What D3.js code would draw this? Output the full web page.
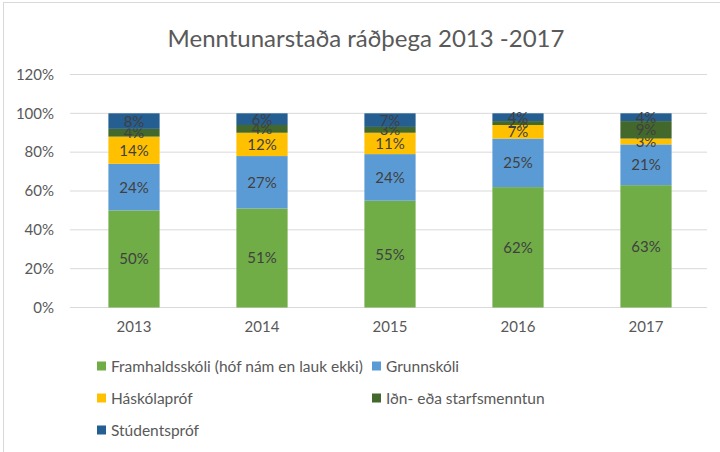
<!DOCTYPE html>
<html>
<head>
<meta charset="utf-8">
<script src="https://cdn.jsdelivr.net/npm/d3@7"></script>
<style>
  body { margin: 0; background: #fff; }
  text { font-family: Lato, "Open Sans", sans-serif; }
</style>
</head>
<body>
<div id="chart"></div>
<script>
const years = ['2013', '2014', '2015', '2016', '2017'];
const seriesNames = ['Framhaldsskóli (hóf nám en lauk ekki)', 'Grunnskóli', 'Háskólapróf', 'Iðn- eða starfsmenntun', 'Stúdentspróf'];
const framhaldsskoli = [50, 51, 55, 62, 63];
const grunnskoli = [24, 27, 24, 25, 21];
const haskolaprof = [14, 12, 11, 7, 3];
const idn = [4, 4, 3, 2, 9];
const studentsprof = [8, 6, 7, 4, 4];
const yTicks = [0, 20, 40, 60, 80, 100, 120];
const colors = ['#70AD47', '#5B9BD5', '#FFC000', '#43682B', '#255E91'];

const allSeries = [framhaldsskoli, grunnskoli, haskolaprof, idn, studentsprof];
const rows = years.map((y, i) => {
  const r = { year: y };
  seriesNames.forEach((n, k) => { r[n] = allSeries[k][i]; });
  return r;
});

const W = 720, H = 452;
const svg = d3.select('#chart').append('svg')
  .attr('width', W)
  .attr('height', H);

// outer frame (only top/left visible in the original crop)
svg.append('rect')
  .attr('x', 3.5).attr('y', 2.5)
  .attr('width', W).attr('height', H)
  .attr('fill', 'none')
  .attr('stroke', '#d9d9d9');

svg.append('text')
  .attr('x', 366)
  .attr('y', 47)
  .attr('text-anchor', 'middle')
  .style('font-size', '24px')
  .style('fill', '#595959')
  .text('Menntunarstaða ráðþega 2013 -2017');

const x = d3.scaleBand()
  .domain(years)
  .range([70, 710])
  .paddingInner(0.6)
  .paddingOuter(0.3);

const y = d3.scaleLinear()
  .domain([0, 120])
  .range([307.5, 74.5]);

// gridlines
svg.append('g')
  .selectAll('line')
  .data(yTicks)
  .enter().append('line')
  .attr('x1', 70)
  .attr('x2', 707)
  .attr('y1', d => y(d))
  .attr('y2', d => y(d))
  .attr('stroke', '#d9d9d9')
  .attr('stroke-width', 1);

const yAxis = svg.append('g')
  .attr('transform', 'translate(58,0)')
  .call(d3.axisLeft(y).tickValues(yTicks).tickSize(0).tickFormat(d => d + '%'));
yAxis.select('.domain').remove();
yAxis.selectAll('text')
  .style('font-size', '15px')
  .style('fill', '#595959')
  .attr('x', -4);

const xAxis = svg.append('g')
  .attr('transform', 'translate(0,307.5)')
  .call(d3.axisBottom(x).tickSize(0));
xAxis.select('.domain').remove();
xAxis.selectAll('text')
  .style('font-size', '15px')
  .style('fill', '#595959')
  .attr('dy', '1.4em');

const stacked = d3.stack().keys(seriesNames)(rows);

const layers = svg.append('g')
  .selectAll('g')
  .data(stacked)
  .enter().append('g')
  .attr('fill', (d, i) => colors[i]);

layers.selectAll('rect')
  .data(d => d)
  .enter().append('rect')
  .attr('x', d => x(d.data.year))
  .attr('y', d => y(d[1]))
  .attr('width', x.bandwidth())
  .attr('height', d => y(d[0]) - y(d[1]));

layers.selectAll('text')
  .data(d => d.map(p => ({ p, key: d.key })))
  .enter().append('text')
  .attr('x', d => x(d.p.data.year) + x.bandwidth() / 2)
  .attr('y', d => (y(d.p[0]) + y(d.p[1])) / 2)
  .attr('dy', '0.36em')
  .attr('text-anchor', 'middle')
  .style('font-size', '15px')
  .style('fill', '#404040')
  .text(d => d.p.data[d.key] + '%');

// legend
const legendPos = [
  [97, 366], [372, 366],
  [97, 398], [372, 398],
  [97, 430]
];
const legend = svg.append('g')
  .selectAll('g')
  .data(seriesNames)
  .enter().append('g')
  .attr('transform', (d, i) => `translate(${legendPos[i][0]},${legendPos[i][1]})`);

legend.append('rect')
  .attr('x', 0).attr('y', -4.5)
  .attr('width', 9).attr('height', 9)
  .attr('fill', (d, i) => colors[i]);

legend.append('text')
  .attr('x', 14)
  .attr('y', 0)
  .attr('dy', '0.36em')
  .style('font-size', '15.5px')
  .style('fill', '#595959')
  .text(d => d);
</script>
</body>
</html>
